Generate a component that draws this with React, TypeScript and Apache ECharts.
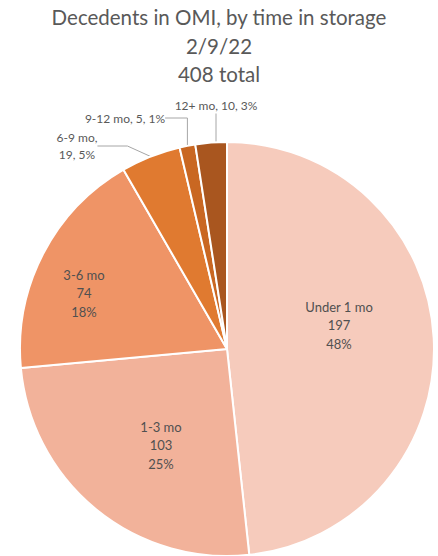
import React, { useEffect, useRef } from "react";
import * as echarts from "echarts";

const categories = ["Under 1 mo", "1-3 mo", "3-6 mo", "6-9 mo", "9-12 mo", "12+ mo"];
const counts = [197, 103, 74, 19, 5, 10];
const colors = ["#F6CBBC", "#F2B29A", "#EF9466", "#E07A30", "#C96722", "#A9561F"];
const titleLines = ["Decedents in OMI, by time in storage", "2/9/22", "408 total"];

// label placement (layout only)
const labelPos: Record<number, [number, number]> = {
  0: [339, 325],
  1: [161, 445],
  2: [84, 293],
  3: [77, 146],
  4: [125, 118],
  5: [216, 105],
};
const outside = [false, false, false, true, true, true];

export default function App() {
  const ref = useRef<HTMLDivElement>(null);
  useEffect(() => {
    if (!ref.current) return;
    const chart = echarts.init(ref.current, undefined, { renderer: "svg" });
    const font = "Lato, 'Liberation Sans', sans-serif";
    chart.setOption({
      animation: false,
      title: {
        text: titleLines.join("\n"),
        left: "center",
        top: -2,
        textStyle: {
          fontFamily: font,
          fontSize: 20.5,
          lineHeight: 28.5,
          fontWeight: "normal",
          color: "#595959",
        },
      },
      series: [
        {
          type: "pie",
          center: [227, 349],
          radius: 207,
          startAngle: 90,
          clockwise: true,
          percentPrecision: 0,
          avoidLabelOverlap: false,
          itemStyle: { borderColor: "#ffffff", borderWidth: 2 },
          data: categories.map((name, i) => ({
            name,
            value: counts[i],
            itemStyle: { color: colors[i] },
            label: outside[i]
              ? {
                  show: true,
                  position: "outside",
                  formatter: i === 3 ? "{b},\n{c}, {d}%" : "{b}, {c}, {d}%",
                  fontFamily: font,
                  fontSize: 12,
                  lineHeight: 17,
                  color: "#595959",
                  align: "center",
                }
              : {
                  show: true,
                  position: "inside",
                  formatter: "{b}\n{c}\n{d}%",
                  fontFamily: font,
                  fontSize: 13,
                  lineHeight: 18.5,
                  color: "#505050",
                  align: "center",
                },
            labelLine: outside[i]
              ? { show: true, lineStyle: { color: "#A6A6A6", width: 1 } }
              : { show: false },
          })),
          labelLayout: (params: any) => {
            const p = labelPos[params.dataIndex];
            if (!p) return {};
            return { x: p[0], y: p[1], align: "center", verticalAlign: "middle" };
          },
        },
      ],
    });
    return () => chart.dispose();
  }, []);
  return (
    <div
      ref={ref}
      style={{ position: "fixed", left: 0, top: 0, width: 438, height: 556, background: "#fff" }}
    />
  );
}
